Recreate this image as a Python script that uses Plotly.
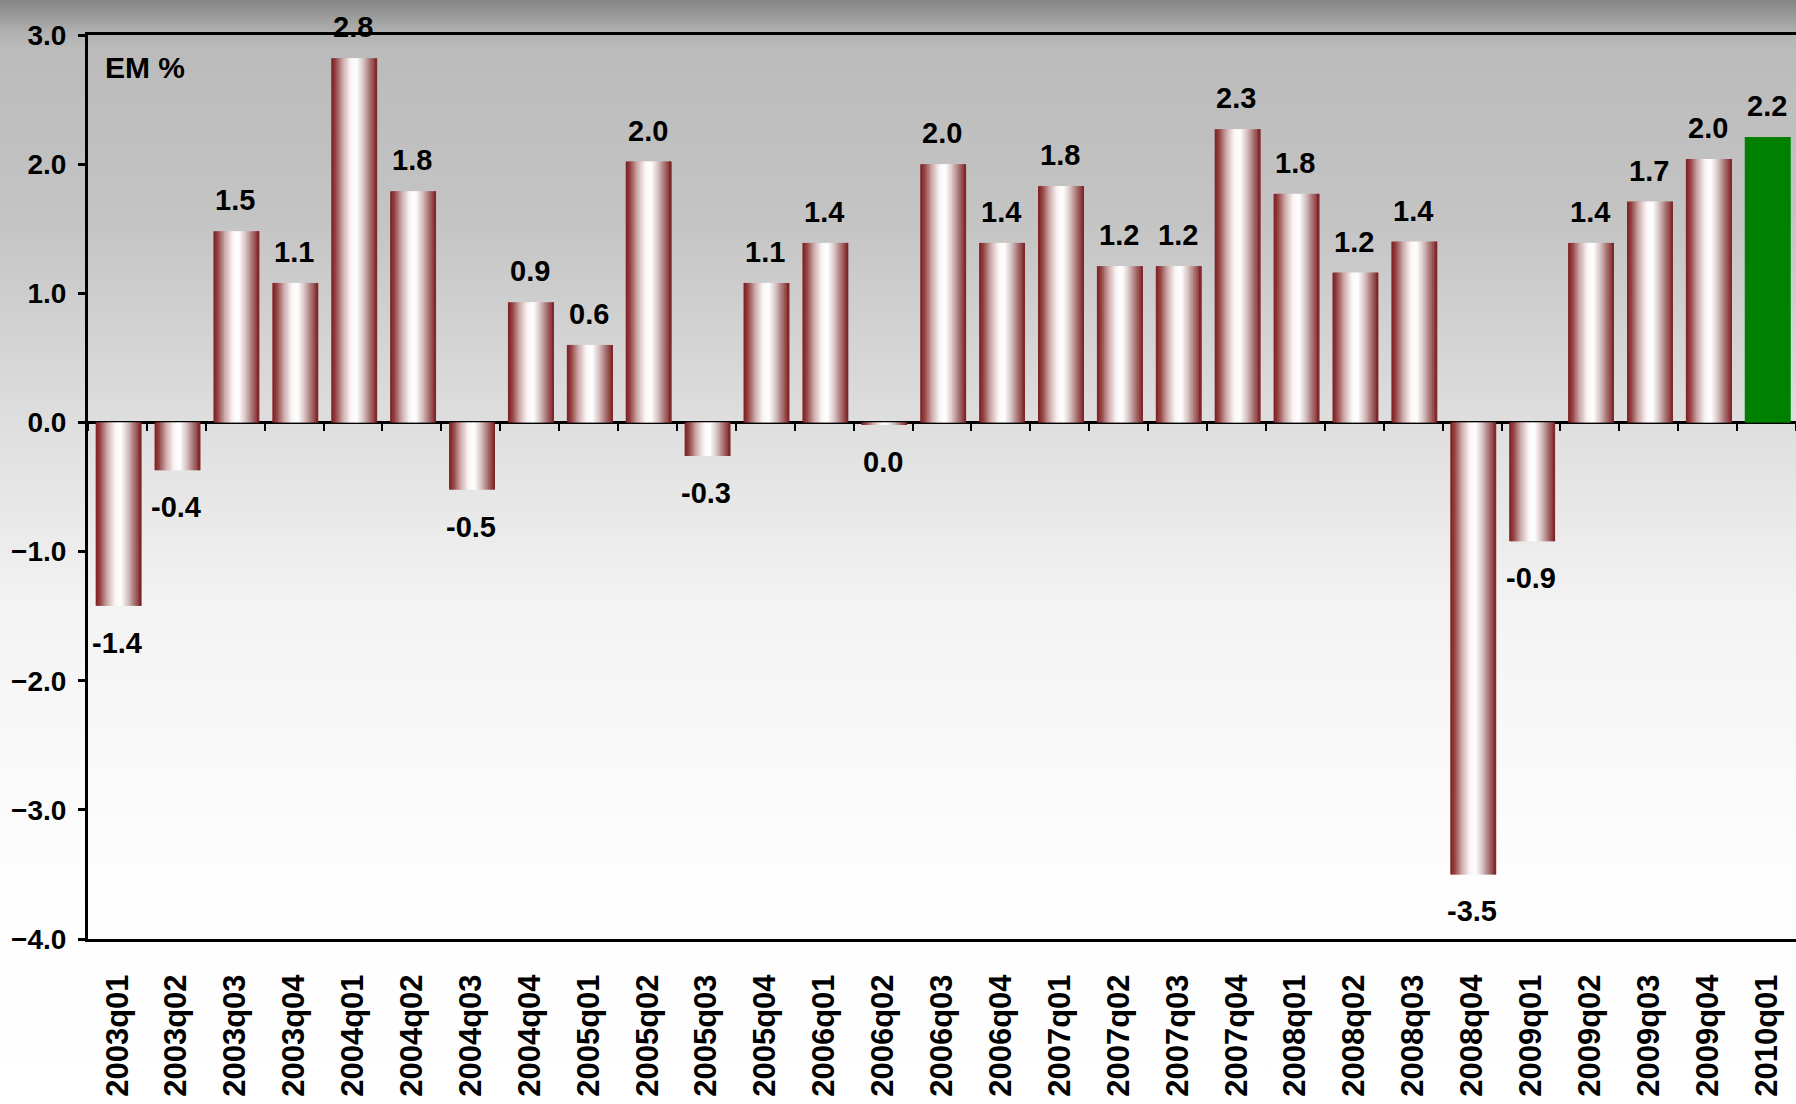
import base64
import plotly.graph_objects as go

categories = ["2003q01", "2003q02", "2003q03", "2003q04", "2004q01", "2004q02", "2004q03",
              "2004q04", "2005q01", "2005q02", "2005q03", "2005q04", "2006q01", "2006q02",
              "2006q03", "2006q04", "2007q01", "2007q02", "2007q03", "2007q04", "2008q01",
              "2008q02", "2008q03", "2008q04", "2009q01", "2009q02", "2009q03", "2009q04",
              "2010q01"]
values = [-1.42, -0.37, 1.48, 1.08, 2.82, 1.79, -0.52, 0.93, 0.60, 2.02, -0.26, 1.08, 1.39,
          -0.02, 2.00, 1.39, 1.83, 1.21, 1.21, 2.27, 1.77, 1.16, 1.40, -3.50, -0.92, 1.39,
          1.71, 2.04, 2.21]
labels = ["-1.4", "-0.4", "1.5", "1.1", "2.8", "1.8", "-0.5", "0.9", "0.6", "2.0", "-0.3",
          "1.1", "1.4", "0.0", "2.0", "1.4", "1.8", "1.2", "1.2", "2.3", "1.8", "1.2", "1.4",
          "-3.5", "-0.9", "1.4", "1.7", "2.0", "2.2"]
highlight = "2010q01"

FONT = "Liberation Sans, Arial, sans-serif"

# horizontal gradient profile for the bars (position across the bar, rgb)
profile = [(0.00, (125, 28, 30)), (0.10, (150, 70, 70)), (0.25, (205, 170, 170)),
           (0.42, (250, 245, 245)), (0.55, (255, 255, 255)), (0.70, (215, 195, 195)),
           (0.85, (165, 110, 110)), (1.00, (125, 30, 32))]


def colour_at(t):
    for (p0, c0), (p1, c1) in zip(profile[:-1], profile[1:]):
        if p0 <= t <= p1:
            f = (t - p0) / (p1 - p0) if p1 > p0 else 0
            return "rgb(%d,%d,%d)" % tuple(round(a + (b - a) * f) for a, b in zip(c0, c1))
    return "rgb(%d,%d,%d)" % profile[-1][1]


fig = go.Figure()
N = 26
bar_w = 0.78
shift = 0.02
strip = bar_w / N
for i in range(N):
    t = (i + 0.5) / N
    col = colour_at(t)
    colours = ["rgb(0,128,0)" if c == highlight else col for c in categories]
    w = strip * (1.7 if i < N - 1 else 1.0)
    fig.add_trace(go.Bar(
        x=categories, y=values, width=w, offset=-bar_w / 2 + shift + i * strip,
        marker=dict(color=colours, line=dict(width=0)), showlegend=False,
        hoverinfo="skip" if i else None))

# invisible trace to activate the secondary x-axis carrying the zero-line ticks
fig.add_trace(go.Scatter(x=categories, y=values, xaxis="x2", mode="markers",
                         marker=dict(opacity=0), showlegend=False, hoverinfo="skip"))

# data labels
for c, v, lab in zip(categories, values, labels):
    fig.add_annotation(x=c, y=v, text="<b>%s</b>" % lab, showarrow=False,
                       yanchor="bottom" if v >= 0 else "top",
                       yshift=13 if v >= 0 else -19,
                       font=dict(family=FONT, size=29, color="black"))

fig.add_annotation(xref="paper", yref="paper", x=0.009, y=0.984, xanchor="left", yanchor="top",
                   text="<b>EM %</b>", showarrow=False,
                   font=dict(family=FONT, size=30, color="black"))

# background gradient as an svg image
svg = """<svg xmlns='http://www.w3.org/2000/svg' width='100' height='1104' preserveAspectRatio='none'>
<defs><linearGradient id='g' x1='0' y1='0' x2='0' y2='1'>
<stop offset='0' stop-color='#858585'/>
<stop offset='0.03' stop-color='#b2b2b2'/>
<stop offset='0.045' stop-color='#bbbbbb'/>
<stop offset='0.2' stop-color='#c4c4c4'/>
<stop offset='0.38' stop-color='#dedede'/>
<stop offset='0.55' stop-color='#f3f3f3'/>
<stop offset='0.78' stop-color='#fdfdfd'/>
<stop offset='1' stop-color='#ffffff'/>
</linearGradient></defs>
<rect width='100' height='1104' fill='url(#g)'/></svg>"""
src = "data:image/svg+xml;base64," + base64.b64encode(svg.encode()).decode()

W, H = 1796, 1104
ml, mr, mt, mb = 88, 0, 35, 165
pw, ph = W - ml - mr, H - mt - mb
fig.add_layout_image(dict(source=src, xref="paper", yref="paper",
                          x=-ml / pw, y=1 + mt / ph, sizex=W / pw, sizey=H / ph,
                          xanchor="left", yanchor="top", sizing="stretch", layer="below"))

fig.update_layout(
    width=W, height=H, margin=dict(l=ml, r=mr, t=mt, b=mb, autoexpand=False),
    barmode="overlay", paper_bgcolor="white", plot_bgcolor="rgba(0,0,0,0)",
    font=dict(family=FONT, color="black"),
    xaxis=dict(type="category", categoryarray=categories, range=[-0.5, 28.5],
               showline=True, linecolor="black", linewidth=3, mirror=True,
               ticks="", showgrid=False, tickangle=-90, ticklabelstandoff=20,
               automargin=False,
               tickfont=dict(family=FONT, size=31, weight="bold", color="black")),
    xaxis2=dict(type="category", categoryarray=categories, range=[-0.5, 28.5],
                overlaying="x", anchor="free", position=4 / 7, side="bottom",
                showline=False, showgrid=False, ticks="outside", tickson="boundaries",
                ticklen=8, tickwidth=2, tickcolor="black", showticklabels=False,
                automargin=False),
    yaxis=dict(range=[-4, 3], dtick=1, tickformat=".1f", showgrid=False,
               showline=True, linecolor="black", linewidth=3,
               ticks="outside", ticklen=7, tickwidth=3, tickcolor="black",
               zeroline=True, zerolinecolor="black", zerolinewidth=3,
               ticklabelstandoff=6, automargin=False,
               tickfont=dict(family=FONT, size=28, weight="bold", color="black")),
)

fig.write_html("out.html", config={"displayModeBar": False},
               post_script="document.body.style.margin='0';document.body.style.overflow='hidden';")
